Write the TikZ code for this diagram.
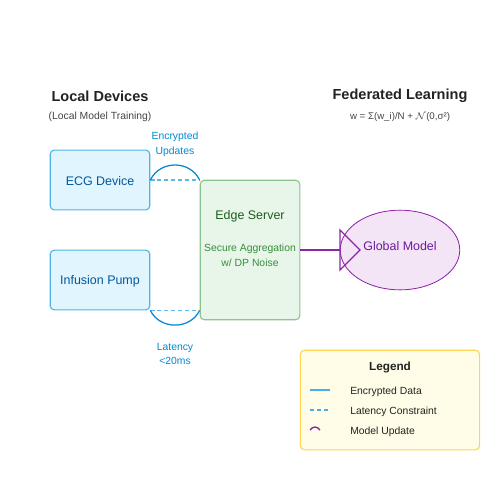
\documentclass[tikz,border=0pt]{standalone}
\usepackage{fontspec}
\setmainfont{Liberation Sans}
\usepackage{amsmath}
\usepackage{tikz}
\usetikzlibrary{shapes.geometric}
\definecolor{devfill}{HTML}{E1F5FE}
\definecolor{devline}{HTML}{4FB3E8}
\definecolor{devtext}{HTML}{01579B}
\definecolor{linkblue}{HTML}{0288D1}
\definecolor{dashblue}{HTML}{5BB8E8}
\definecolor{srvfill}{HTML}{E8F5E9}
\definecolor{srvline}{HTML}{8BC48F}
\definecolor{srvtext}{HTML}{1B5E20}
\definecolor{srvsub}{HTML}{388E3C}
\definecolor{glbfill}{HTML}{F3E5F5}
\definecolor{glbline}{HTML}{8E24AA}
\definecolor{glbtext}{HTML}{6A1B9A}
\definecolor{legfill}{HTML}{FFFDE7}
\definecolor{legline}{HTML}{FFD54F}
\definecolor{titletext}{HTML}{222222}
\definecolor{subtext}{HTML}{444444}

\tikzset{
  device/.style={draw=devline, fill=devfill, rounded corners=3, line width=0.8pt,
    minimum width=100*0.72pt, minimum height=60*0.72pt},
  devname/.style={text=devtext, font=\fontsize{9}{10}\selectfont},
  heading/.style={text=titletext, font=\fontsize{10.5}{12}\selectfont\bfseries},
  subhead/.style={text=subtext, font=\fontsize{7.5}{9}\selectfont},
  linklabel/.style={text=linkblue, font=\fontsize{7.5}{10.8}\selectfont, align=center},
  legtext/.style={text=titletext, font=\fontsize{7.5}{9}\selectfont, anchor=west, inner sep=0pt},
}

\begin{document}
\begin{tikzpicture}[x=0.0254cm, y=-0.0254cm]
        \useasboundingbox (0,0) rectangle (500,500);
        % headings
        \node[heading] (loctitle) at (100,96) {Local Devices};
        \node[subhead] (locsub) at (100,117) {(Local Model Training)};
        \node[heading] (fedtitle) at (400,96) {Federated Learning};
        \node[subhead, font=\fontsize{7}{9}\selectfont] (fedsub) at (400,117) {w = Σ(w\_i)/N + $\mathcal{N}$(0,σ²)};
        % devices
        \node[device] (ecg) at (100,180) {};
        \node[devname] (ecgname) at (100,181.5) {ECG Device};
        \node[device] (pump) at (100,280) {};
        \node[devname] (pumpname) at (100,281.5) {Infusion Pump};
        % edge server
        \node[draw=srvline, fill=srvfill, rounded corners=3, line width=0.8pt,
          minimum width=100*0.72pt, minimum height=140*0.72pt] (edge) at (250,250) {};
        \node[text=srvtext, font=\fontsize{9}{10}\selectfont] (edgename) at (250,216.5) {Edge Server};
        \node[text=srvsub, font=\fontsize{7.5}{10.8}\selectfont, align=center] (edgesub) at (250,255)
          {Secure Aggregation\\w/ DP Noise};
        % global model
        \node[draw=glbline, fill=glbfill, ellipse, line width=0.6pt, minimum width=120*0.72pt,
          minimum height=80*0.72pt, inner sep=0pt] (global) at (400,250) {};
        \node[text=glbtext, font=\fontsize{9}{10}\selectfont] (globalname) at (400,246.5) {Global Model};
        % encrypted updates
        \coordinate (ecgout) at (ecg.east);
        \coordinate (edgein) at (edge.west |- ecg.east);
        \draw[dashblue, line width=0.8pt, dash pattern=on 3pt off 2pt] (ecgout) -- (edgein);
        \draw[linkblue, line width=0.9pt] (ecgout) .. controls (160,160) and (190,160) .. (edgein);
        \node[linklabel] (enclabel) at (175,144) {Encrypted\\Updates};
        % latency
        \coordinate (pumpout) at (pump.south east);
        \coordinate (edgelow) at (edge.west |- pump.south east);
        \draw[dashblue, line width=0.8pt, dash pattern=on 3pt off 2pt] (pumpout) -- (edgelow);
        \draw[linkblue, line width=0.9pt] (pumpout) .. controls (160,330) and (190,330) .. (edgelow);
        \node[linklabel] (latlabel) at (175,354) {Latency\\<20ms};
        % model update arrow
        \coordinate (tipbase) at (340,250);
        \draw[glbline, line width=1pt] (edge.east |- tipbase) -- (tipbase);
        \draw[glbline, line width=1pt, line join=miter] (340,230) -- (360,250) -- (340,270) -- cycle;
        % legend
        \node[draw=legline, fill=legfill, rounded corners=3, line width=0.8pt,
          minimum width=180*0.72pt, minimum height=100*0.72pt] (legend) at (390,400) {};
        \node[text=titletext, font=\fontsize{8.5}{10}\selectfont\bfseries] (legtitle) at (390,367) {Legend};
        \draw[dashblue!80!linkblue, line width=1pt] (310,390) -- (330,390);
        \node[legtext] (legenc) at (350,392) {Encrypted Data};
        \draw[dashblue!80!linkblue, line width=1pt, dash pattern=on 3pt off 2pt] (310,410) -- (330,410);
        \node[legtext] (leglat) at (350,412) {Latency Constraint};
        \draw[glbline, line width=1pt] (310,430) .. controls (313,426) and (317,426) .. (320,430);
        \node[legtext] (legmod) at (350,432) {Model Update};
    \end{tikzpicture}
\end{document}
